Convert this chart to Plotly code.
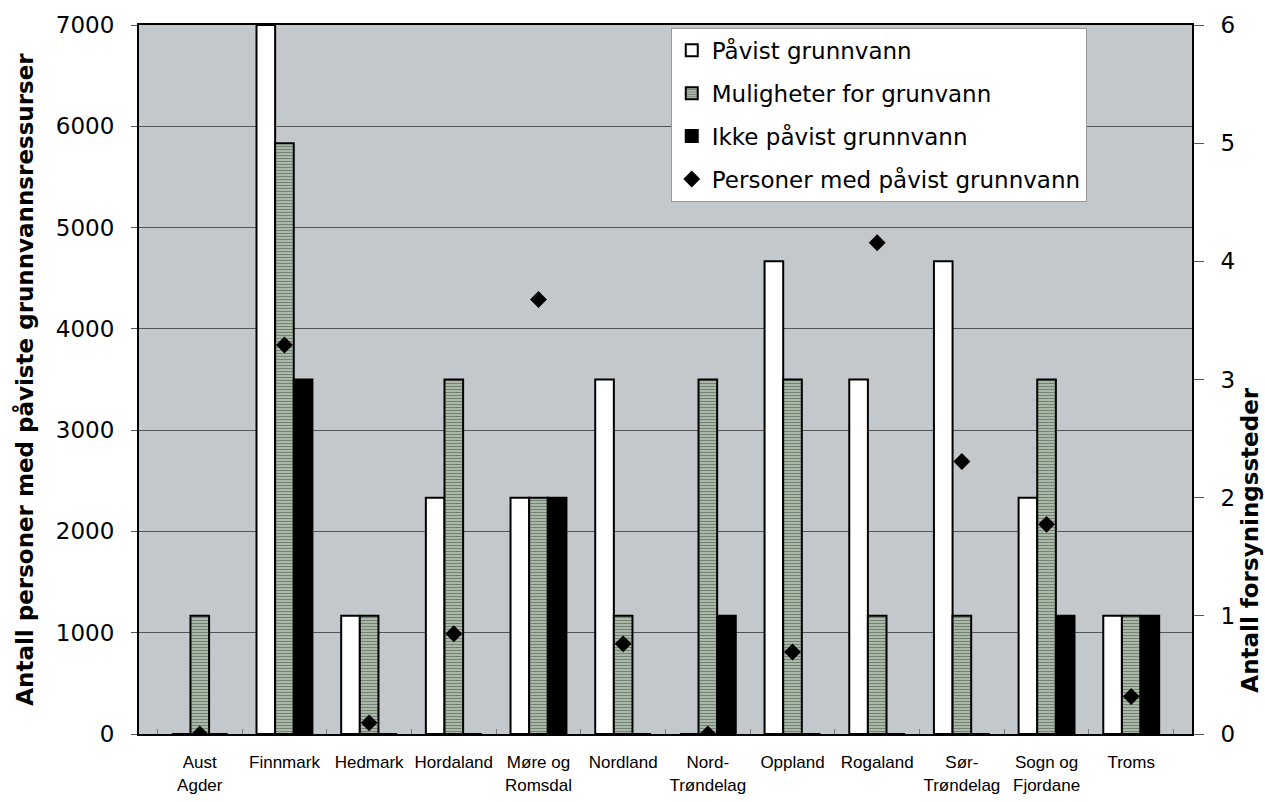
import plotly.graph_objects as go

categories = ["Aust<br>Agder", "Finnmark", "Hedmark", "Hordaland", "Møre og<br>Romsdal",
              "Nordland", "Nord-<br>Trøndelag", "Oppland", "Rogaland", "Sør-<br>Trøndelag",
              "Sogn og<br>Fjordane", "Troms"]
pavist = [0, 6, 1, 2, 2, 3, 0, 4, 3, 4, 2, 1]
muligheter = [1, 5, 1, 3, 2, 1, 3, 3, 1, 1, 3, 1]
ikke_pavist = [0, 3, 0, 0, 2, 0, 1, 0, 0, 0, 1, 1]
personer = [0, 3840, 110, 990, 4290, 890, 0, 810, 4850, 2690, 2070, 370]

left_ticks = [0, 1000, 2000, 3000, 4000, 5000, 6000, 7000]
right_ticks = [0, 1, 2, 3, 4, 5, 6]

FONT = "DejaVu Sans"
fig = go.Figure()
fig.add_trace(go.Bar(name="Påvist grunnvann", x=categories, y=pavist, yaxis="y",
                     marker=dict(color="white", line=dict(color="black", width=2)),
                     legendgroup="a"))
fig.add_trace(go.Bar(name="Muligheter for grunvann", x=categories, y=muligheter, yaxis="y",
                     marker=dict(color="#6f7d72", line=dict(color="black", width=2),
                                 pattern=dict(shape="-", fgcolor="#26322a", bgcolor="#c2d0c0",
                                              size=3, solidity=0.55)),
                     legendgroup="b"))
fig.add_trace(go.Bar(name="Ikke påvist grunnvann", x=categories, y=ikke_pavist, yaxis="y",
                     marker=dict(color="black", line=dict(color="black", width=2)),
                     legendgroup="c"))
fig.add_trace(go.Scatter(name="Personer med påvist grunnvann", x=categories, y=personer,
                         yaxis="y2", mode="markers",
                         marker=dict(symbol="diamond", size=13, color="black"),
                         legendgroup="d"))

fig.update_layout(
    width=1265, height=802,
    margin=dict(l=139, r=73, t=25, b=68, autoexpand=False),
    paper_bgcolor="white",
    plot_bgcolor="#c3c8cd",
    barmode="group",
    bargap=0.34,
    bargroupgap=0,
    font=dict(family=FONT, color="black"),
    showlegend=True,
    legend=dict(x=0.505, y=0.996, xanchor="left", yanchor="top",
                bgcolor="white", bordercolor="#999999", borderwidth=1,
                font=dict(family=FONT, size=23, color="black"),
                tracegroupgap=10, traceorder="grouped"),
    xaxis=dict(
        automargin=False, tickangle=0,
        showline=True, linecolor="black", linewidth=2, mirror=True,
        ticks="inside", tickson="boundaries", ticklen=5, tickcolor="#777777",
        tickfont=dict(family="Liberation Sans", size=17, color="black"),
        ticklabelstandoff=12,
        showgrid=False,
    ),
    yaxis=dict(
        automargin=False,
        side="right", range=[0, 6], tickvals=right_ticks,
        ticks="outside", ticklen=10, tickcolor="#555555",
        tickfont=dict(family=FONT, size=23, color="black"),
        ticklabelstandoff=12,
        showline=True, linecolor="black", linewidth=2,
        showgrid=False, zeroline=False,
        minor=dict(tick0=0, dtick=6/7, showgrid=True, gridcolor="#555555", gridwidth=1, ticks=""),
    ),
    yaxis2=dict(
        automargin=False,
        overlaying="y", side="left", range=[0, 7000], tickvals=left_ticks,
        ticks="outside", ticklen=6, tickcolor="#555555",
        tickfont=dict(family=FONT, size=23, color="black"),
        ticklabelstandoff=12,
        showline=True, linecolor="black", linewidth=2,
        showgrid=False, zeroline=False,
        title=dict(text="<b>Antall personer med påviste grunnvannsressurser</b>",
                   font=dict(family=FONT, size=23, color="black"), standoff=16),
    ),
    annotations=[dict(text="<b>Antall forsyningssteder</b>", textangle=-90,
                      xref="paper", yref="paper", x=1.055, y=0.274,
                      xanchor="center", yanchor="middle", showarrow=False,
                      font=dict(family=FONT, size=23, color="black"))],
)

fig.write_html("out.html", config={"displayModeBar": False},
               post_script="document.body.style.margin='0px';")
